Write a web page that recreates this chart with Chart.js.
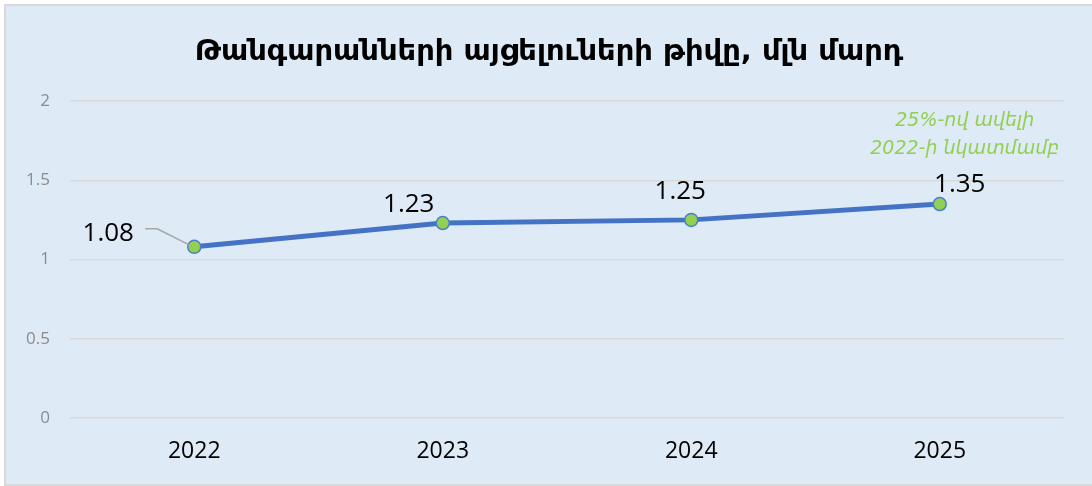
<!DOCTYPE html>
<html>
<head>
<meta charset="utf-8">
<script src="https://cdn.jsdelivr.net/npm/chart.js@4/dist/chart.umd.min.js"></script>
<style>
  html, body { margin: 0; padding: 0; background: #fff; }
  #box {
    position: absolute; left: 4px; top: 4px;
    width: 1086px; height: 478px;
    border: 2px solid #d9d9d9; border-right: none;
    background: #deeaf6;
  }
</style>
</head>
<body>
<div id="box"><canvas id="myChart" width="1086" height="478"></canvas></div>
<script>
const titleText = "Թանգարանների այցելուների թիվը, մլն մարդ";
const years = ["2022", "2023", "2024", "2025"];
const visitors = [1.08, 1.23, 1.25, 1.35];
const yTicks = [0, 0.5, 1, 1.5, 2];
const noteLines = ["25%-ով ավելի", "2022-ի նկատմամբ"];

const armFont = "'DejaVu Sans', 'Noto Sans', sans-serif";
const numFont = "'Open Sans', 'Liberation Sans', sans-serif";

// label offsets from each point (dx, dy)
const labelOffsets = [[-86, -13], [-34, -18], [-11, -28], [20, -19]];

const extras = {
    id: "extras",
    afterDraw(chart) {
        const ctx = chart.ctx;
        ctx.save();
        // title
        ctx.fillStyle = "#000";
        ctx.font = "bold 29px " + armFont;
        ctx.textAlign = "center";
        ctx.textBaseline = "middle";
        ctx.fillText(titleText, 543, 46);

        const meta = chart.getDatasetMeta(0);
        // leader line for first label
        const p0 = meta.data[0];
        ctx.strokeStyle = "#a6a6a6";
        ctx.lineWidth = 1.5;
        ctx.beginPath();
        ctx.moveTo(p0.x - 49, p0.y - 18);
        ctx.lineTo(p0.x - 37, p0.y - 18);
        ctx.lineTo(p0.x - 3, p0.y - 1);
        ctx.stroke();

        // value labels
        ctx.font = "26px " + numFont;
        ctx.fillStyle = "#000";
        meta.data.forEach((pt, i) => {
            ctx.fillText(visitors[i].toFixed(2), pt.x + labelOffsets[i][0], pt.y + labelOffsets[i][1]);
        });

        // green note
        const last = meta.data[3];
        ctx.font = "italic 19px " + armFont;
        ctx.fillStyle = "#92d050";
        ctx.fillText(noteLines[0], last.x + 25, 115);
        ctx.fillText(noteLines[1], last.x + 25, 143);
        ctx.restore();
    }
};

new Chart(document.getElementById("myChart"), {
    type: "line",
    data: {
        labels: years,
        datasets: [{
            data: visitors,
            borderColor: "#4472c4",
            borderWidth: 5,
            pointBackgroundColor: "#92d050",
            pointBorderColor: "#4a7fd0",
            pointBorderWidth: 1.5,
            pointRadius: 6.5,
            tension: 0
        }]
    },
    options: {
        responsive: false,
        animation: false,
        events: [],
        layout: { padding: { top: 95, right: 28, bottom: 17, left: 0 } },
        plugins: { legend: { display: false }, tooltip: { enabled: false } },
        scales: {
            x: {
                offset: true,
                afterFit: axis => { axis.height = 49; },
                grid: { display: false },
                border: { display: false },
                ticks: { color: "#000", font: { size: 23, family: numFont }, padding: 12 }
            },
            y: {
                min: 0, max: 2,
                afterBuildTicks: axis => { axis.ticks = yTicks.map(v => ({ value: v })); },
                afterFit: axis => { axis.width = 64; },
                grid: { color: "#d9d9d9", lineWidth: 1.5, drawTicks: false },
                border: { display: false },
                ticks: { color: "#8c8c8c", font: { size: 17, family: numFont }, padding: 20, callback: v => String(v) }
            }
        }
    },
    plugins: [extras]
});
</script>
</body>
</html>
